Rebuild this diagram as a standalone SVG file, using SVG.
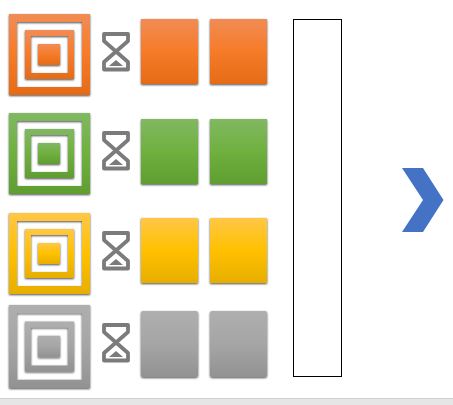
<svg xmlns="http://www.w3.org/2000/svg" xmlns:xlink="http://www.w3.org/1999/xlink" width="453" height="405" viewBox="0 0 453 405">
<style>
.o{fill:url(#go)}.g{fill:url(#gg)}.y{fill:url(#gy)}.k{fill:url(#gk)}
.s{filter:url(#sh)}
.h{fill:none;stroke:#7b7b7b;stroke-width:3.800;stroke-linejoin:round}
.ht{fill:#7b7b7b}
</style>
<defs>
<linearGradient id="go" x1="0" y1="0" x2="0" y2="1"><stop offset="0" stop-color="#f18c55"/><stop offset=".5" stop-color="#f67b28"/><stop offset="1" stop-color="#e56b17"/></linearGradient>
<linearGradient id="gg" x1="0" y1="0" x2="0" y2="1"><stop offset="0" stop-color="#81b861"/><stop offset=".5" stop-color="#6fb03f"/><stop offset="1" stop-color="#5f9e30"/></linearGradient>
<linearGradient id="gy" x1="0" y1="0" x2="0" y2="1"><stop offset="0" stop-color="#ffc746"/><stop offset=".5" stop-color="#ffc000"/><stop offset="1" stop-color="#e6ae00"/></linearGradient>
<linearGradient id="gk" x1="0" y1="0" x2="0" y2="1"><stop offset="0" stop-color="#afafaf"/><stop offset=".5" stop-color="#a5a5a5"/><stop offset="1" stop-color="#929292"/></linearGradient>
<filter id="sh" x="-15%" y="-15%" width="130%" height="130%"><feGaussianBlur in="SourceAlpha" stdDeviation="1"/><feOffset dy="1.300"/><feComponentTransfer><feFuncA type="linear" slope=".7"/></feComponentTransfer><feMerge><feMergeNode/><feMergeNode in="SourceGraphic"/></feMerge></filter>
<path id="outer" fill-rule="evenodd" d="M9 14H90V95H9ZM17 22V87H82V22Z"/>
<path id="mid" fill-rule="evenodd" d="M25 30H74V79H25ZM31 36V73H68V36Z"/>
<rect id="core" x="38" y="44" width="22" height="21"/>
<g id="glass"><path class="h" d="M104 34H128V41L104 62V69.500H128V62L104 41Z"/><path class="ht" d="M116 60L123 66H109Z"/></g>
</defs>
<g id="connectors"/>
<g id="icon-1"><use href="#outer" class="o s"/><use href="#mid" class="o s"/><use href="#core" class="o s"/></g>
<g id="icon-2" transform="translate(0 99)"><use href="#outer" class="g s"/><use href="#mid" class="g s"/><use href="#core" class="g s"/></g>
<g id="icon-3" transform="translate(0 199)"><use href="#outer" class="y s"/><use href="#mid" class="y s"/><use href="#core" class="y s"/></g>
<g id="icon-4" transform="translate(0 290.650) scale(1 1.0247)"><use href="#outer" class="k s"/><use href="#mid" class="k s"/><use href="#core" class="k s"/></g>
<g id="glass-1"><use href="#glass"/></g>
<g id="glass-2"><use href="#glass" y="99"/></g>
<g id="glass-3"><use href="#glass" y="199"/></g>
<g id="glass-4"><use href="#glass" y="291"/></g>
<g id="box-1a"><rect class="o s" x="141" y="19" width="57" height="65"/></g>
<g id="box-1b"><rect class="o s" x="210" y="19" width="57" height="65"/></g>
<g id="box-2a"><rect class="g s" x="141" y="119" width="57" height="65"/></g>
<g id="box-2b"><rect class="g s" x="210" y="119" width="57" height="65"/></g>
<g id="box-3a"><rect class="y s" x="141" y="218" width="57" height="65"/></g>
<g id="box-3b"><rect class="y s" x="210" y="218" width="57" height="65"/></g>
<g id="box-4a"><rect class="k s" x="141" y="311" width="57" height="66" rx="2"/></g>
<g id="box-4b"><rect class="k s" x="210" y="311" width="57" height="66" rx="2"/></g>
<g id="panel"><rect x="293.500" y="19.500" width="48" height="357" fill="#fff" stroke="#000" stroke-width="1"/></g>
<g id="chevron"><path d="M402 168H423L443.500 200L423 232H402L423 200Z" fill="#4472c4"/></g>
<g id="strip"><rect x="0" y="398" width="453" height="7" fill="#e6e6e6"/><rect x="0" y="398" width="453" height="1" fill="#cfcfcf"/></g>
</svg>
